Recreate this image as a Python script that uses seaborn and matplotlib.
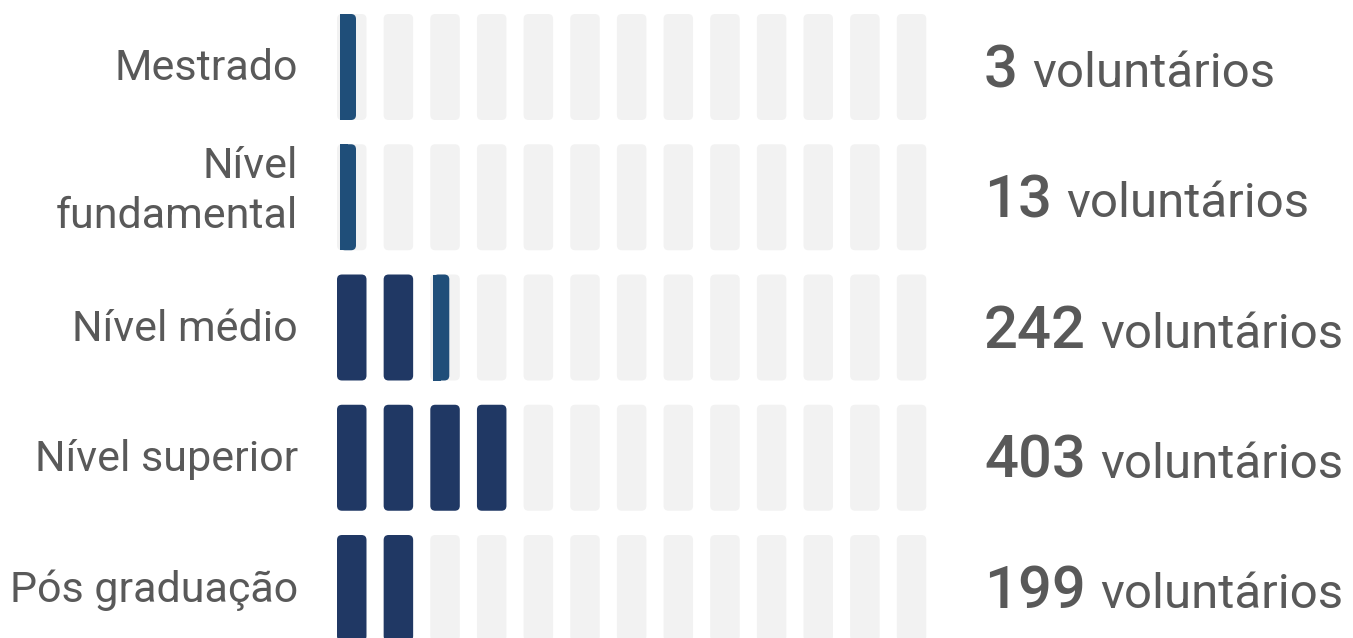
import numpy as np
import pandas as pd
import matplotlib
matplotlib.use("Agg")
import matplotlib.pyplot as plt
from matplotlib.patches import FancyBboxPatch, Rectangle
import seaborn as sns

# ---- data ----
categories = ["Mestrado", "Nível\nfundamental", "Nível médio", "Nível superior", "Pós graduação"]
volunteers = [3, 13, 242, 403, 199]
unit_size = 100          # volunteers per icon
n_slots = 13
suffix = "voluntários"

# ---- style ----
sns.set_theme(style="white")
plt.rcParams["font.family"] = ["Roboto", "DejaVu Sans"]
GREY = "#F2F2F2"
NAVY = "#203864"
BLUE = "#1F4E79"
TXT = "#595959"

W, H = 1353, 638
fig = plt.figure(figsize=(W / 100, H / 100), dpi=100)
ax = fig.add_axes([0, 0, 1, 1])

# pixel geometry of the slot grid
x0_px, step_px = 337.0, 46.65
y0_px, rstep_px = 67.0, 130.25
ax.set_xlim(-x0_px / step_px, (W - x0_px) / step_px)
ax.set_ylim((H - y0_px) / rstep_px, -y0_px / rstep_px)
ax.axis("off")

cell_w = 29.5 / step_px
cell_h = 106.0 / rstep_px
rad = 5.0 / step_px
m_aspect = step_px / rstep_px

# icon table
rows = []
for r, v in enumerate(volunteers):
    units = v / unit_size
    full = int(round(units)) if abs(units - round(units)) < 0.05 else int(np.floor(units))
    rem = units - full
    for s in range(n_slots):
        if s < full:
            state = "full"
        elif s == full and rem > 0.05 or (s == 0 and full == 0):
            state = "part"
        else:
            state = "empty"
        rows.append((r, s, state))
cells = pd.DataFrame(rows, columns=["row", "slot", "state"])

def rbox(x, y, w, h, color, z=1):
    p = FancyBboxPatch((x, y), w, h,
                       boxstyle=f"round,pad=0,rounding_size={rad}",
                       mutation_aspect=m_aspect, fc=color, ec="none", zorder=z)
    ax.add_patch(p)

for _, c in cells.iterrows():
    x = c.slot
    y = c.row - cell_h / 2
    if c.state == "full":
        rbox(x, y, cell_w, cell_h, NAVY, 2)
    else:
        rbox(x, y, cell_w, cell_h, GREY, 1)
        if c.state == "part":
            px = x + 3.0 / step_px
            pw = 16.0 / step_px
            rbox(px, y, pw, cell_h, BLUE, 3)
            ax.add_patch(Rectangle((px, y), pw / 2, cell_h, fc=BLUE, ec="none", zorder=3))

# labels
lab_x = (298 - x0_px) / step_px
for r, lab in enumerate(categories):
    dy = -6.0 / rstep_px if "\n" in lab else 2.0 / rstep_px
    ax.text(lab_x, r + dy, lab, ha="right", va="center", fontsize=31,
            color=TXT, linespacing=1.28)

# values
fig.canvas.draw()
rend = fig.canvas.get_renderer()
num_x = (984 - x0_px) / step_px
inv = ax.transData.inverted()
for r, v in enumerate(volunteers):
    yb = r + 20.0 / rstep_px
    t = ax.text(num_x, yb, f"{v}", ha="left", va="baseline", fontsize=43,
                fontweight="medium", color=TXT)
    bb = t.get_window_extent(renderer=rend)
    xe = inv.transform((bb.x1 + 14, 0))[0]
    ax.text(xe, yb, suffix, ha="left", va="baseline", fontsize=35.5, color=TXT)

fig.savefig("out.png", dpi=100)
